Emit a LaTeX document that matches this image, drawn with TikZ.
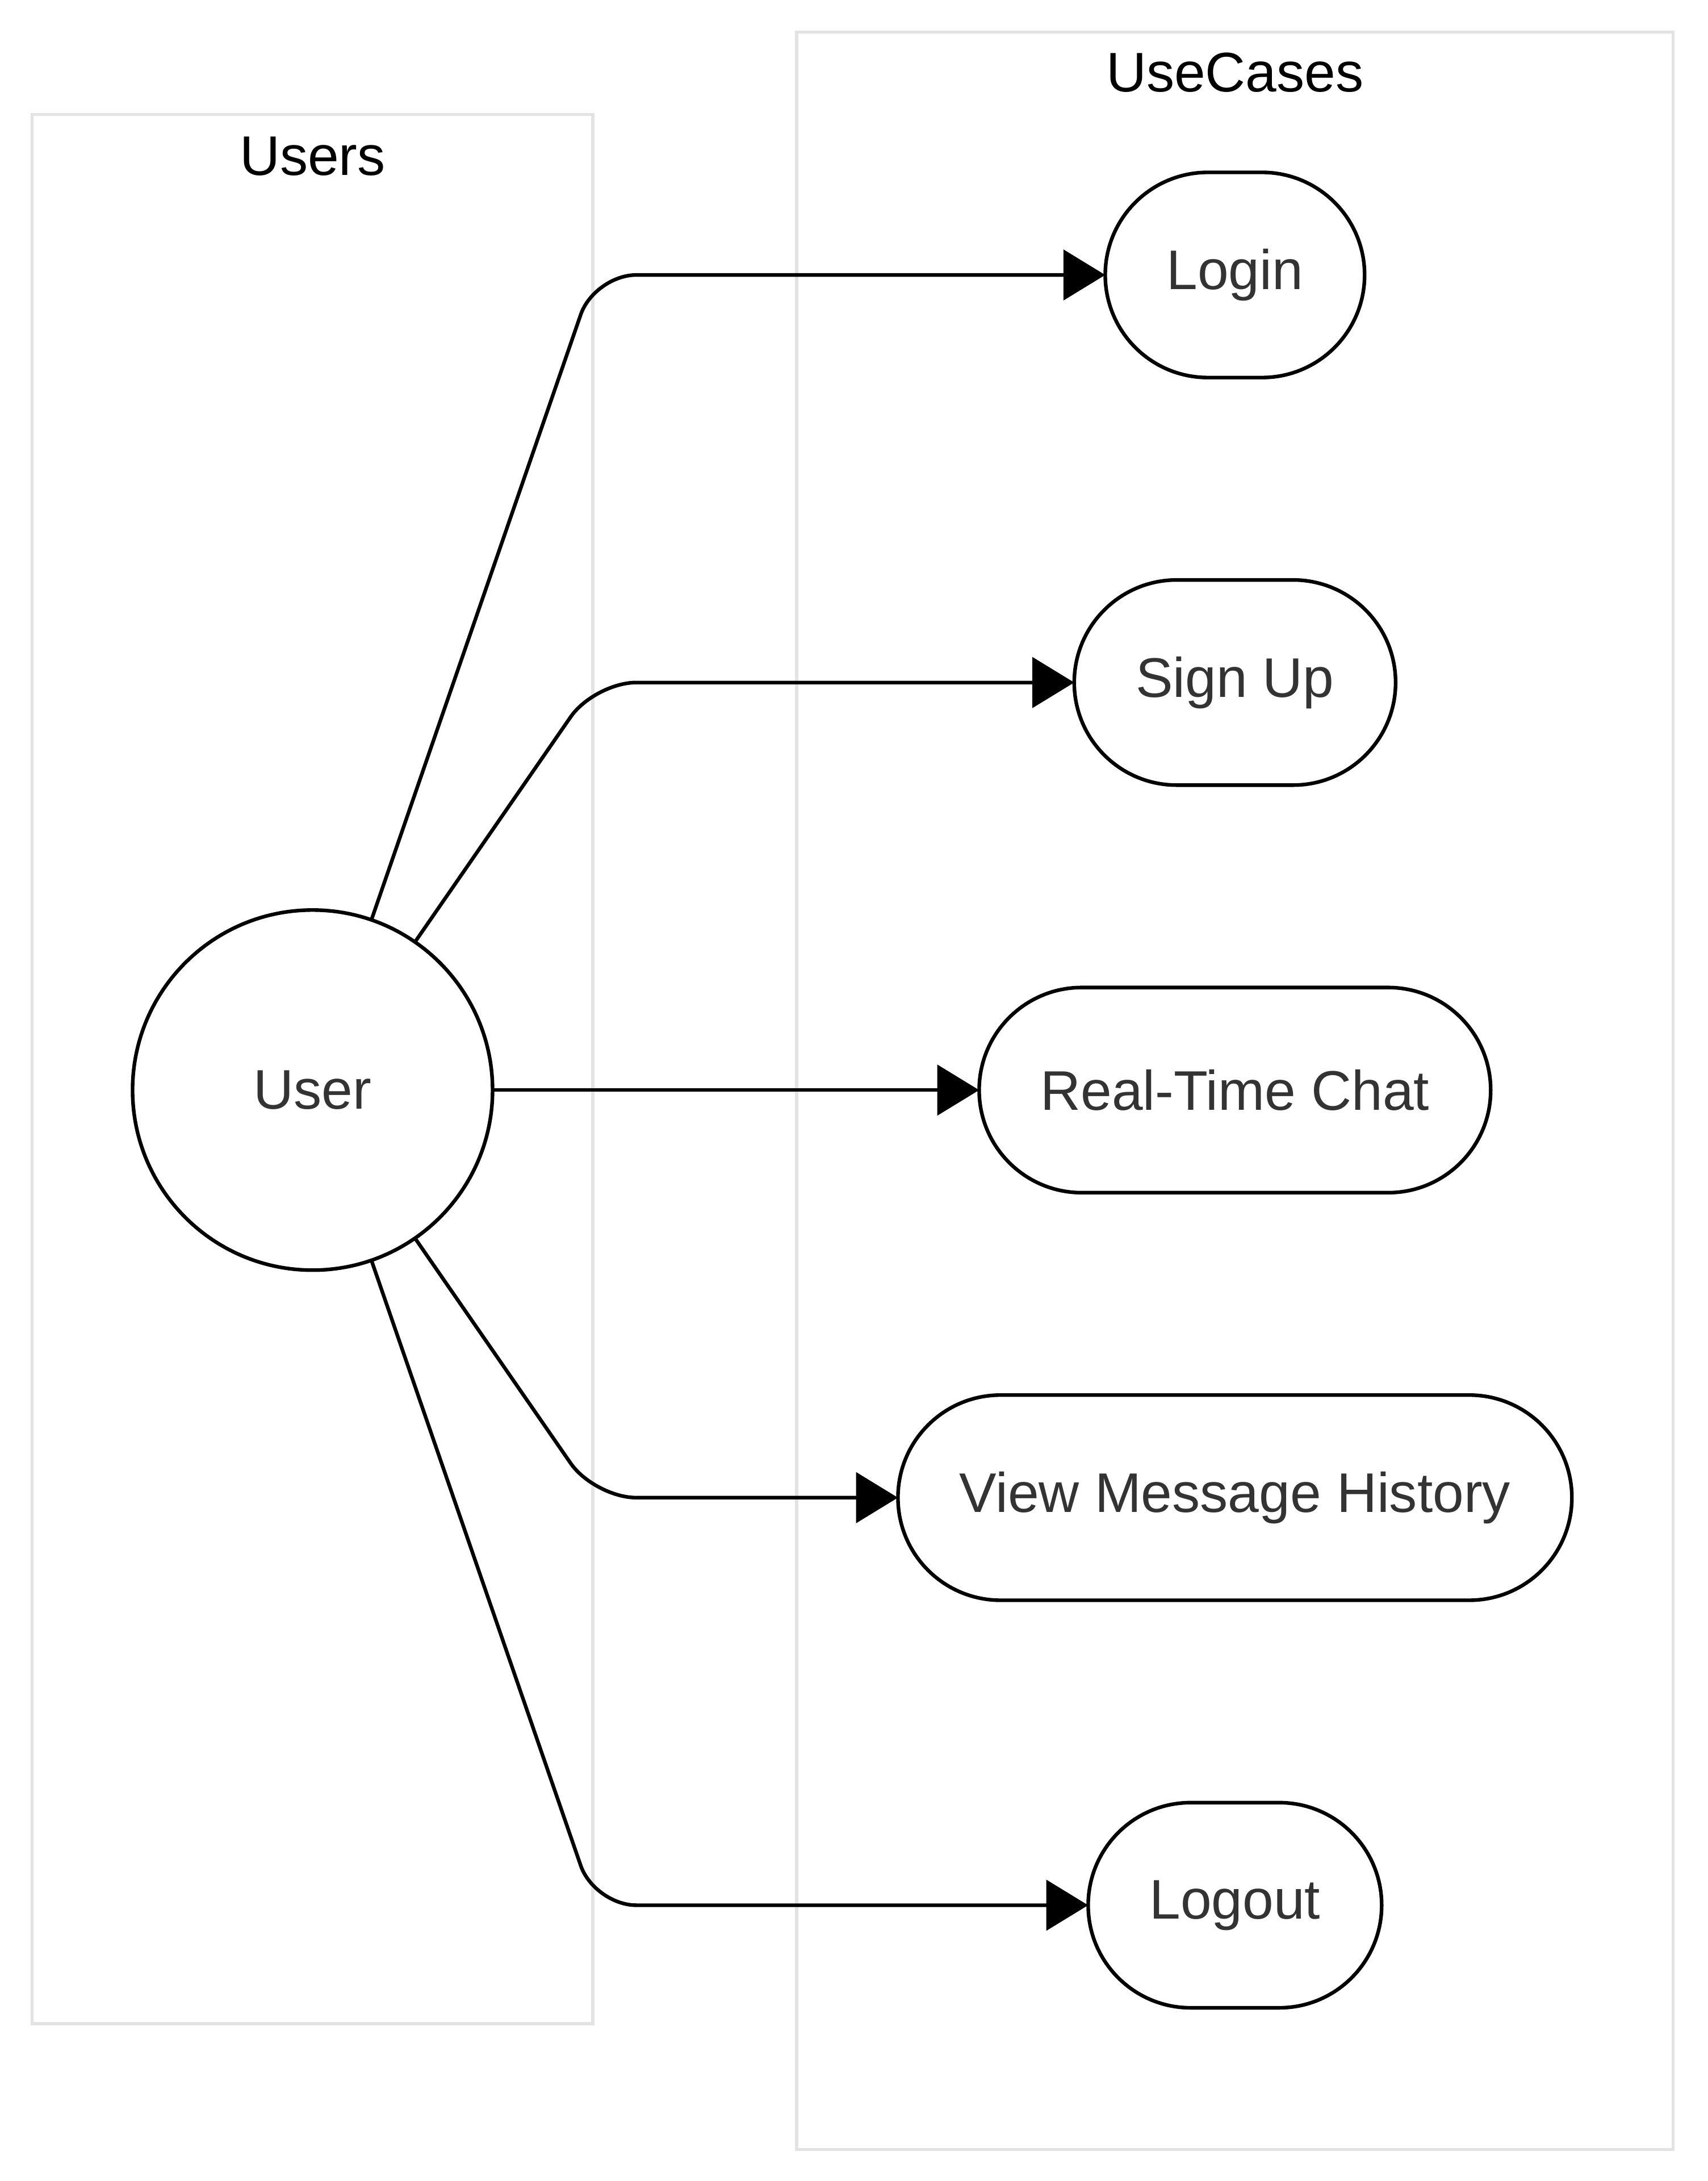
\documentclass[tikz,border=0pt]{standalone}
\usepackage{fontspec}
\setmainfont{Liberation Sans}
\usepackage{xcolor}
\usetikzlibrary{positioning}
\usetikzlibrary{arrows.meta}
\definecolor{boxgray}{HTML}{E3E3E3}
\definecolor{textgray}{HTML}{333333}
\tikzstyle{usecase}=[draw=black, line width=2.6pt, fill=white, rectangle, rounded corners=73.5pt, minimum height=147pt, inner xsep=44pt, outer sep=0pt, text=textgray]
\tikzstyle{actor}=[draw=black, line width=2.6pt, fill=white, circle, minimum size=258pt, inner sep=0pt, outer sep=0pt, text=textgray]
\tikzstyle{group}=[draw=boxgray, line width=2.4pt]
\tikzstyle{link}=[-{Triangle[length=30pt, width=36pt]}, draw=black, line width=2.6pt, rounded corners=30pt]

\begin{document}
\begin{tikzpicture}[x=1pt, y=1pt, node distance = 145pt, every node/.style={font=\fontsize{40}{48}\selectfont}]
    \useasboundingbox (0,0) rectangle (1224,-1562.6);

    \draw[group] (23,-82) rectangle (425,-1450);
    \draw[group] (571,-23) rectangle (1199,-1540);
    \node (userslabel)    at (224,-112) {Users};
    \node (usecaseslabel) at (885,-52)  {UseCases};

    \node[actor]   (user)    at (224,-781)           {User};
    \node[usecase] (login)   at (885,-197)           {Login};
    \node[usecase] (signup)  [below = of login]      {Sign Up};
    \node[usecase] (chat)    [below = of signup]     {Real-Time Chat};
    \node[usecase] (history) [below = of chat]       {View Message History};
    \node[usecase] (logout)  [below = of history]    {Logout};

    \coordinate (bendlogin)   at (426,-197);
    \coordinate (bendsignup)  at (426,-489);
    \coordinate (bendhistory) at (426,-1073);
    \coordinate (bendlogout)  at (426,-1365);

    \draw[link] (user) -- (bendlogin) -- (login.west);
    \draw[link] (user) -- (bendsignup) -- (signup.west);
    \draw[link] (user) -- (chat);
    \draw[link] (user) -- (bendhistory) -- (history.west);
    \draw[link] (user) -- (bendlogout) -- (logout.west);
\end{tikzpicture}
\end{document}
